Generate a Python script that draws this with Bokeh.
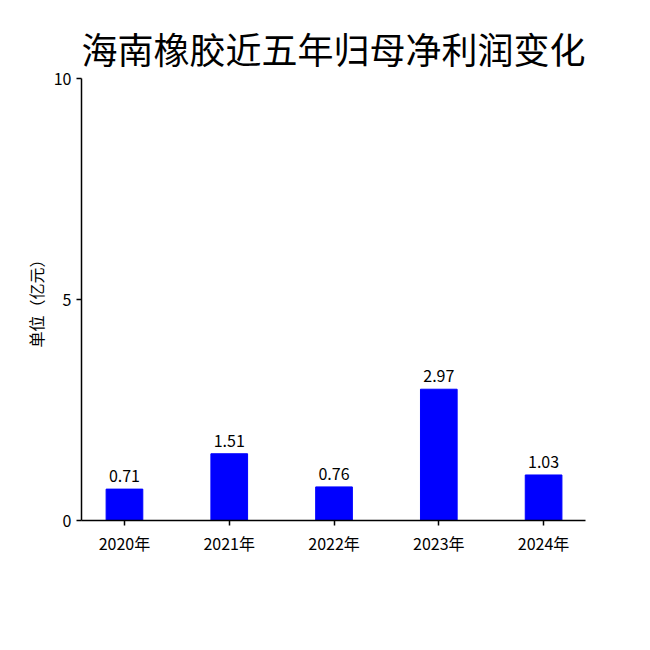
from bokeh.plotting import figure
from bokeh.models import Range1d, FixedTicker, ColumnDataSource, LabelSet
from bokeh.core.properties import value
from bokeh.embed import file_html
from bokeh.resources import INLINE

years = ["2020年", "2021年", "2022年", "2023年", "2024年"]
profits = [0.71, 1.51, 0.76, 2.97, 1.03]
value_labels = ["0.71", "1.51", "0.76", "2.97", "1.03"]
y_ticks = [0, 5, 10]

xs = list(range(len(years)))
src = ColumnDataSource(dict(x=xs, top=profits, lab=value_labels))

CJK = "Noto Sans CJK SC"

p = figure(width=634, height=634, output_backend="svg", toolbar_location=None,
           x_range=Range1d(-0.41, 4.4), y_range=Range1d(0, 10),
           min_border_left=81, min_border_right=49, min_border_bottom=114, min_border_top=78,
           title="海南橡胶近五年归母净利润变化")
p.title.text_font = CJK
p.title.text_font_size = "36px"
p.title.text_font_style = "normal"
p.title.align = "center"
p.title.text_color = "black"

p.vbar(x="x", top="top", width=0.35, source=src, color="#0000ff")
labels = LabelSet(x="x", y="top", text="lab", source=src, text_align="center",
                  text_baseline="bottom", y_offset=7, text_font_size=value("16px"),
                  text_font=value(CJK), text_color=value("black"))
p.add_layout(labels)

p.xgrid.grid_line_color = None
p.ygrid.grid_line_color = None
p.outline_line_color = None

p.xaxis.ticker = FixedTicker(ticks=xs)
p.xaxis.major_label_overrides = {i: y for i, y in enumerate(years)}
p.yaxis.ticker = FixedTicker(ticks=y_ticks)
for ax in (p.xaxis, p.yaxis):
    ax.axis_line_color = "black"
    ax.axis_line_width = 1.5
    ax.major_tick_line_color = "black"
    ax.major_tick_line_width = 1.5
    ax.major_tick_in = 0
    ax.major_tick_out = 5
    ax.minor_tick_line_color = None
    ax.major_label_text_font = CJK
    ax.major_label_text_font_size = "16px"
    ax.major_label_text_color = "black"
p.yaxis.axis_label = "单位（亿元）"
p.yaxis.axis_label_text_font = CJK
p.yaxis.axis_label_text_font_size = "16px"
p.yaxis.axis_label_text_font_style = "normal"
p.yaxis.axis_label_text_color = "black"
p.yaxis.axis_label_standoff = 3

open("out.html", "w").write(file_html(p, INLINE))
